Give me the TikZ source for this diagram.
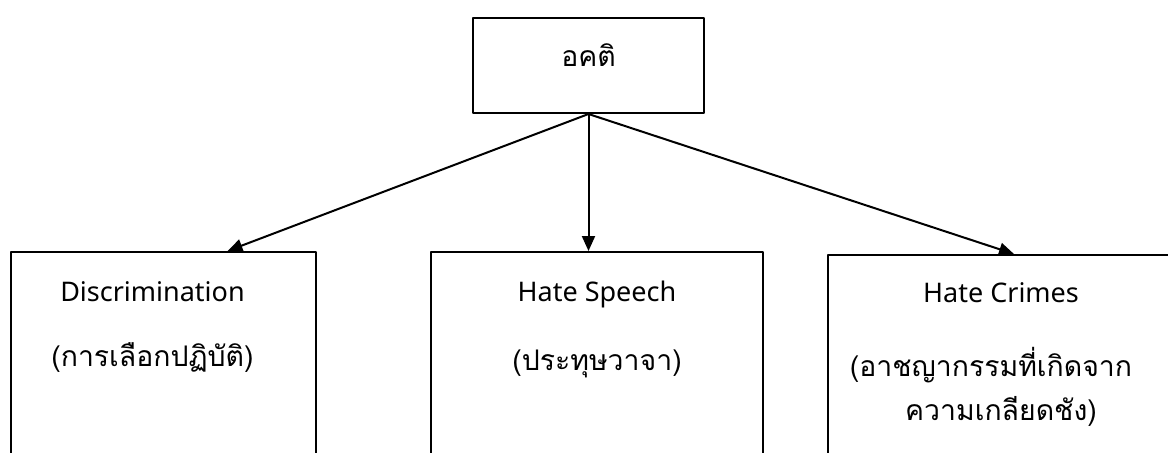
\documentclass[tikz,border=0pt]{standalone}
\usepackage{fontspec}
\setmainfont{Noto Sans}
\newfontfamily\thaifont[Script=Thai]{Loma}
\usetikzlibrary{arrows.meta,calc}
\begin{document}
\begin{tikzpicture}[x=0.5pt, y=-0.5pt, line join=round, >={Triangle[length=7.5pt,width=6.5pt]},
	box/.style={draw, line width=1pt, anchor=north west, inner sep=0pt},
	eng/.style={font=\fontsize{13.5}{16}\selectfont, anchor=base},
	thai/.style={font=\thaifont\fontsize{14.2}{20}\selectfont, anchor=base}]
	\useasboundingbox (0,0) rectangle (1168,452);
	\clip (0,0) rectangle (1168,452);
	% boxes
	\node[box, minimum width=115.5pt, minimum height=47.5pt] (top) at (472,17) {};
	\node[box, minimum width=152.5pt, minimum height=114.5pt] (disc) at (10,251) {};
	\node[box, minimum width=166pt, minimum height=114.5pt] (spch) at (430,251) {};
	\node[box, minimum width=173pt, minimum height=113pt] (crim) at (827,254) {};
	% texts
	\node[thai] (topa) at ([yshift=-24.5pt]top.north) {อคติ};
	\node[eng] (disca) at ([xshift=-5.5pt,yshift=-25pt]disc.north) {Discrimination};
	\node[thai] (discb) at ([xshift=-5.5pt,yshift=-57.5pt]disc.north) {(การเลือกปฏิบัติ)};
	\node[eng] (spcha) at ([yshift=-25pt]spch.north) {Hate Speech};
	\node[thai] (spchb) at ([yshift=-59.5pt]spch.north) {(ประทุษวาจา)};
	\node[eng] (crima) at ([yshift=-24pt]crim.north) {Hate Crimes};
	\node[thai] (crimb) at ([xshift=-5pt,yshift=-61pt]crim.north) {(อาชญากรรมที่เกิดจาก};
	\node[thai] (crimc) at ([yshift=-83pt]crim.north) {ความเกลียดชัง)};
	% arrows
	\draw[->, line width=1pt] (top.south) -- ([xshift=32pt]disc.north);
	\draw[->, line width=1pt] (top.south) -- (top.south |- spch.north);
	\draw[->, line width=1pt] (top.south) -- ([xshift=6.5pt]crim.north);
\end{tikzpicture}
\end{document}
